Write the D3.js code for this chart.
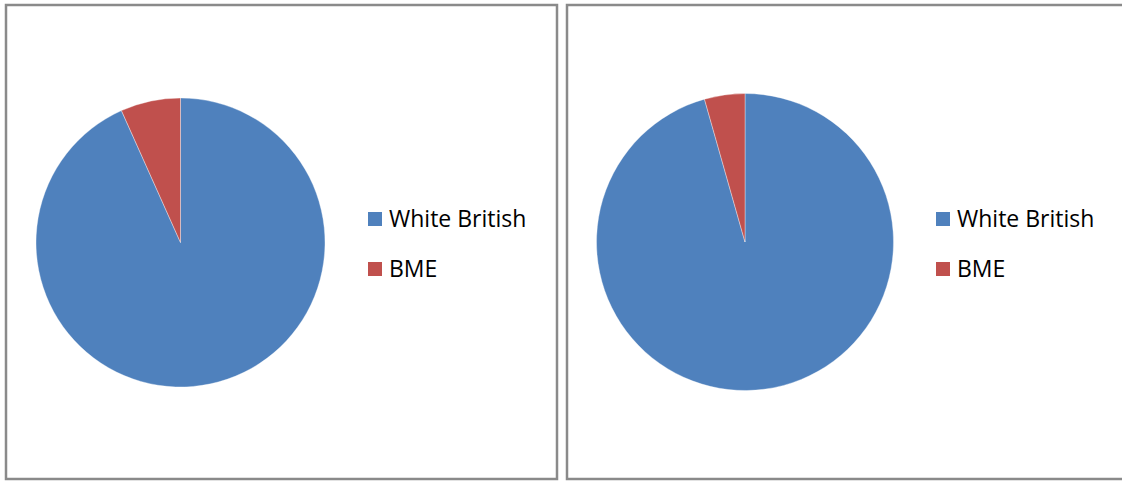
<!DOCTYPE html>
<html>
<head>
<meta charset="utf-8">
<script src="https://cdn.jsdelivr.net/npm/d3@7/dist/d3.min.js"></script>
<style>
  html, body { margin: 0; padding: 0; background: #ffffff; }
  svg { display: block; }
</style>
</head>
<body>
<script>
// Ethnic breakdown shown in two pie charts
const categories = ["White British", "BME"];
const chart1Values = [93.3, 6.7];
const chart2Values = [95.6, 4.4];
const sliceColors = ["#4F81BD", "#C0504D"];

const W = 1122, H = 481;
const svg = d3.select("body").append("svg")
  .attr("width", W).attr("height", H);

const panels = [
  { values: chart1Values, frame: { x: 6, y: 5, w: 551, h: 474 }, cx: 180.5, cy: 242.5, r: 144.5, legendX: 368, legendY: 212 },
  { values: chart2Values, frame: { x: 567, y: 5, w: 600, h: 474 }, cx: 745, cy: 242, r: 148.5, legendX: 936, legendY: 212 }
];

const pie = d3.pie().sort(null).value(d => d);
const color = d3.scaleOrdinal().domain(categories).range(sliceColors);

panels.forEach(p => {
  const g = svg.append("g");

  g.append("rect")
    .attr("x", p.frame.x).attr("y", p.frame.y)
    .attr("width", p.frame.w).attr("height", p.frame.h)
    .attr("fill", "#ffffff")
    .attr("stroke", "#8a8a8a")
    .attr("stroke-width", 2.5);

  const arc = d3.arc().innerRadius(0).outerRadius(p.r);
  const slices = pie(p.values);

  g.append("g")
    .attr("transform", `translate(${p.cx},${p.cy})`)
    .selectAll("path")
    .data(slices)
    .join("path")
    .attr("d", arc)
    .attr("fill", (d, i) => color(categories[i]))
    .attr("stroke", "#ffffff")
    .attr("stroke-width", 0.6)
    .attr("stroke-opacity", 0.6);

  const legend = g.append("g")
    .attr("transform", `translate(${p.legendX},${p.legendY})`);

  const items = legend.selectAll("g")
    .data(categories)
    .join("g")
    .attr("transform", (d, i) => `translate(0,${i * 50})`);

  items.append("rect")
    .attr("width", 14).attr("height", 14)
    .attr("fill", d => color(d));

  items.append("text")
    .attr("x", 21).attr("y", 14.5)
    .attr("font-family", "'Open Sans', 'Noto Sans', sans-serif")
    .attr("font-size", 23)
    .attr("fill", "#000000")
    .text(d => d);
});
</script>
</body>
</html>
